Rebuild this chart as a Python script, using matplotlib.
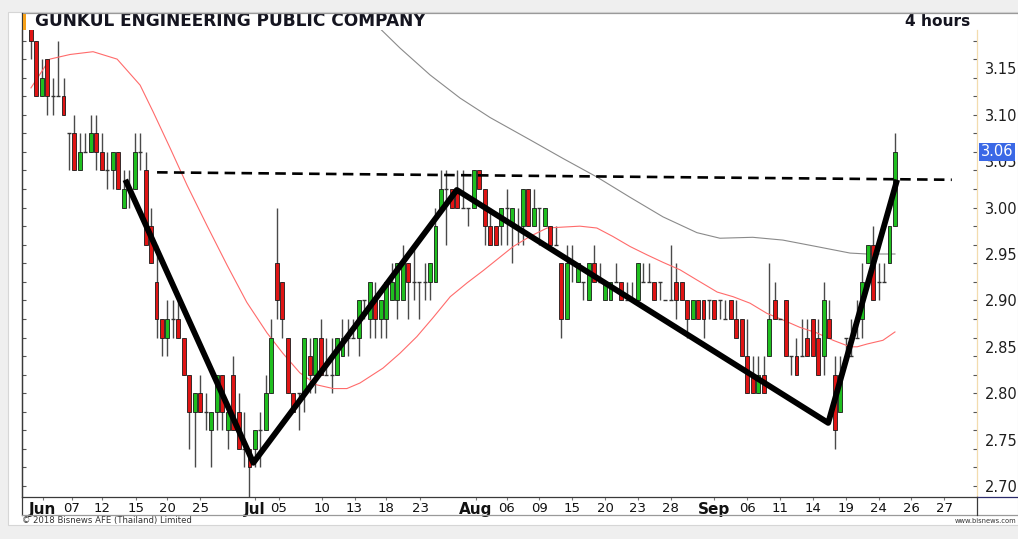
import numpy as np
import matplotlib
matplotlib.use("Agg")
import matplotlib.pyplot as plt
from matplotlib.lines import Line2D
from matplotlib.patches import Rectangle
from matplotlib.ticker import FixedLocator, FormatStrFormatter
from matplotlib.transforms import blended_transform_factory

W, H = 1018, 539

# 4-hour bars, GUNKUL, Jun - Sep 2018 (tick 0.02)
opens = [3.20, 3.18, 3.12, 3.16, 3.12, 3.12, 3.12, 3.08, 3.08, 3.04,
         3.06, 3.06, 3.08, 3.06, 3.04, 3.04, 3.06, 3.00, 3.02, 3.02,
         3.06, 3.04, 2.98, 2.92, 2.88, 2.86, 2.88, 2.88, 2.86, 2.82,
         2.78, 2.80, 2.78, 2.76, 2.78, 2.82, 2.76, 2.82, 2.78, 2.74,
         2.74, 2.74, 2.76, 2.76, 2.80, 2.94, 2.92, 2.86, 2.80, 2.80,
         2.80, 2.84, 2.82, 2.86, 2.82, 2.82, 2.82, 2.84, 2.86, 2.86,
         2.86, 2.90, 2.88, 2.90, 2.88, 2.88, 2.90, 2.90, 2.90, 2.94,
         2.92, 2.92, 2.92, 2.92, 2.92, 3.00, 3.02, 3.02, 3.02, 3.00,
         3.00, 3.00, 3.04, 3.02, 2.98, 2.98, 2.98, 3.00, 2.98, 2.98,
         2.98, 3.02, 2.98, 3.00, 2.98, 2.98, 2.96, 2.94, 2.88, 2.94,
         2.92, 2.92, 2.90, 2.94, 2.92, 2.90, 2.90, 2.92, 2.92, 2.90,
         2.90, 2.90, 2.92, 2.92, 2.92, 2.92, 2.90, 2.90, 2.92, 2.92,
         2.90, 2.88, 2.90, 2.90, 2.90, 2.90, 2.90, 2.88, 2.90, 2.88,
         2.88, 2.84, 2.82, 2.80, 2.82, 2.84, 2.90, 2.88, 2.90, 2.84,
         2.84, 2.84, 2.86, 2.88, 2.86, 2.84, 2.88, 2.82, 2.78, 2.86,
         2.84, 2.86, 2.88, 2.94, 2.96, 2.92, 2.92, 2.94, 2.98]
highs = [3.20, 3.18, 3.16, 3.16, 3.14, 3.18, 3.14, 3.08, 3.10, 3.08,
         3.08, 3.10, 3.10, 3.08, 3.06, 3.06, 3.06, 3.04, 3.04, 3.08,
         3.08, 3.06, 3.00, 2.96, 2.88, 2.90, 2.90, 2.90, 2.86, 2.82,
         2.80, 2.82, 2.80, 2.78, 2.82, 2.82, 2.78, 2.84, 2.80, 2.78,
         2.74, 2.76, 2.78, 2.82, 2.88, 3.00, 2.92, 2.86, 2.80, 2.80,
         2.86, 2.86, 2.86, 2.88, 2.86, 2.86, 2.86, 2.88, 2.88, 2.88,
         2.90, 2.90, 2.92, 2.92, 2.90, 2.92, 2.94, 2.94, 2.96, 2.94,
         2.96, 2.92, 2.94, 2.94, 3.00, 3.04, 3.04, 3.02, 3.04, 3.04,
         3.00, 3.04, 3.04, 3.02, 3.00, 2.98, 3.00, 3.02, 3.00, 3.00,
         3.02, 3.02, 3.02, 3.00, 3.00, 2.98, 2.98, 2.94, 2.96, 2.96,
         2.94, 2.92, 2.94, 2.96, 2.94, 2.92, 2.92, 2.94, 2.92, 2.92,
         2.92, 2.94, 2.94, 2.94, 2.92, 2.92, 2.90, 2.96, 2.94, 2.92,
         2.90, 2.90, 2.90, 2.90, 2.90, 2.90, 2.90, 2.90, 2.90, 2.90,
         2.88, 2.88, 2.84, 2.84, 2.84, 2.94, 2.92, 2.88, 2.90, 2.84,
         2.86, 2.88, 2.88, 2.88, 2.88, 2.92, 2.90, 2.84, 2.84, 2.86,
         2.88, 2.90, 2.94, 2.96, 2.98, 2.94, 2.94, 2.98, 3.08]
lows = [3.16, 3.12, 3.12, 3.10, 3.10, 3.12, 3.10, 3.04, 3.04, 3.04,
        3.06, 3.06, 3.04, 3.04, 3.02, 3.02, 3.02, 3.00, 3.00, 3.02,
        3.04, 2.96, 2.94, 2.86, 2.84, 2.84, 2.86, 2.86, 2.82, 2.74,
        2.72, 2.78, 2.76, 2.72, 2.76, 2.76, 2.74, 2.76, 2.74, 2.72,
        2.68, 2.72, 2.72, 2.76, 2.80, 2.88, 2.86, 2.80, 2.78, 2.76,
        2.78, 2.80, 2.80, 2.82, 2.82, 2.80, 2.82, 2.84, 2.84, 2.86,
        2.84, 2.88, 2.86, 2.86, 2.86, 2.86, 2.90, 2.88, 2.90, 2.88,
        2.90, 2.88, 2.90, 2.90, 2.92, 3.00, 2.96, 3.00, 3.00, 3.00,
        2.98, 3.00, 3.02, 2.96, 2.96, 2.96, 2.96, 2.96, 2.94, 2.96,
        2.96, 2.98, 2.98, 2.96, 2.98, 2.96, 2.96, 2.86, 2.88, 2.92,
        2.92, 2.90, 2.90, 2.92, 2.92, 2.90, 2.90, 2.92, 2.90, 2.90,
        2.90, 2.90, 2.92, 2.92, 2.90, 2.90, 2.90, 2.90, 2.88, 2.90,
        2.86, 2.88, 2.88, 2.86, 2.88, 2.88, 2.88, 2.88, 2.88, 2.86,
        2.84, 2.80, 2.80, 2.80, 2.80, 2.84, 2.88, 2.88, 2.84, 2.82,
        2.82, 2.84, 2.84, 2.84, 2.82, 2.82, 2.86, 2.74, 2.78, 2.84,
        2.84, 2.86, 2.86, 2.94, 2.90, 2.90, 2.92, 2.94, 2.98]
closes = [3.18, 3.12, 3.14, 3.12, 3.12, 3.12, 3.10, 3.08, 3.04, 3.06,
          3.06, 3.08, 3.06, 3.04, 3.04, 3.06, 3.02, 3.02, 3.02, 3.06,
          3.06, 2.96, 2.94, 2.88, 2.86, 2.88, 2.88, 2.86, 2.82, 2.78,
          2.80, 2.78, 2.78, 2.78, 2.82, 2.78, 2.78, 2.76, 2.74, 2.74,
          2.72, 2.76, 2.76, 2.80, 2.86, 2.90, 2.88, 2.80, 2.78, 2.80,
          2.86, 2.82, 2.86, 2.82, 2.82, 2.82, 2.86, 2.86, 2.86, 2.86,
          2.90, 2.90, 2.92, 2.88, 2.90, 2.92, 2.92, 2.94, 2.94, 2.92,
          2.92, 2.92, 2.92, 2.94, 2.98, 3.02, 3.02, 3.00, 3.00, 3.00,
          3.00, 3.04, 3.02, 2.98, 2.96, 2.96, 3.00, 3.00, 3.00, 2.98,
          3.02, 2.98, 3.00, 3.00, 3.00, 2.96, 2.96, 2.88, 2.94, 2.94,
          2.94, 2.92, 2.94, 2.92, 2.92, 2.92, 2.92, 2.92, 2.90, 2.90,
          2.90, 2.94, 2.92, 2.92, 2.90, 2.92, 2.90, 2.90, 2.90, 2.90,
          2.88, 2.90, 2.88, 2.88, 2.90, 2.88, 2.90, 2.88, 2.88, 2.86,
          2.84, 2.80, 2.80, 2.82, 2.80, 2.88, 2.88, 2.88, 2.84, 2.84,
          2.82, 2.84, 2.84, 2.84, 2.82, 2.90, 2.86, 2.76, 2.82, 2.86,
          2.84, 2.86, 2.92, 2.96, 2.90, 2.92, 2.92, 2.98, 3.06]

# moving averages (bar position, price)
ma_fast_x = [0.05, 3.5, 7.2, 11.4, 15.8, 20.0, 22.4, 25.5, 28.6, 32.2, 35.9, 39.5,
             43.2, 46.1, 49.2, 52.3, 55.3, 57.8, 60.2, 64.4, 67.5, 70.6, 73.5,
             76.7, 79.8, 82.7, 88.2, 91.3, 94.4, 97.3, 100.4, 103.5, 106.4,
             109.6, 112.7, 115.6, 118.7, 121.8, 125.5, 128.4, 131.5, 134.6,
             137.5, 140.6, 143.7, 146.7, 149.8, 151.1, 152.9, 155.8, 158.0]
ma_fast_y = [3.129, 3.160, 3.165, 3.168, 3.160, 3.132, 3.103, 3.064, 3.024, 2.981,
             2.938, 2.898, 2.865, 2.843, 2.822, 2.809, 2.805, 2.805, 2.811, 2.827,
             2.843, 2.861, 2.881, 2.904, 2.919, 2.932, 2.958, 2.969, 2.978, 2.979,
             2.980, 2.978, 2.969, 2.958, 2.949, 2.941, 2.933, 2.922, 2.909, 2.904,
             2.897, 2.886, 2.879, 2.871, 2.865, 2.857, 2.850, 2.850, 2.853, 2.857,
             2.866]
ma_slow_x = [63.5, 67.5, 73.0, 78.5, 84.0, 91.3, 97.3, 103.5, 109.6, 115.6,
             121.8, 126.0, 132.0, 137.5, 143.7, 149.8, 152.9, 158.0]
ma_slow_y = [3.195, 3.172, 3.143, 3.118, 3.097, 3.073, 3.053, 3.033, 3.011, 2.990,
             2.973, 2.967, 2.968, 2.965, 2.958, 2.951, 2.950, 2.950]

# hand drawn pattern lines
zig_x = [17.3, 40.7, 77.9, 145.8, 158.4]
zig_y = [3.030, 2.725, 3.019, 2.768, 3.030]
neck_x = [23.1, 168.4]
neck_y = [3.038, 3.030]

tick_pos = [2.2, 7.5, 13.0, 19.2, 25.0, 31.0, 41.0, 45.4, 53.2, 59.2, 65.0, 71.2,
            81.4, 87.0, 93.0, 99.0, 105.0, 111.0, 117.0, 125.0, 131.0, 137.0,
            143.0, 149.0, 155.0, 161.0, 167.0]
tick_lab = ["Jun", "07", "12", "15", "20", "25", "Jul", "05", "10", "13", "18", "23",
            "Aug", "06", "09", "15", "20", "23", "28", "Sep", "06", "11", "14", "19",
            "24", "26", "27"]
months = {"Jun", "Jul", "Aug", "Sep"}
price_ticks = [2.70, 2.75, 2.80, 2.85, 2.90, 2.95, 3.00, 3.05, 3.10, 3.15]


def fx(x):
    return x / W


def fy(y):
    return 1 - y / H


fig = plt.figure(figsize=(W / 100, H / 100), dpi=100, facecolor="#efefef")
panel = Rectangle((fx(8), fy(525)), fx(1018 - 8), (525 - 12) / H,
                  transform=fig.transFigure, fc="white", ec="#d6d6d6", lw=0.8, zorder=-10)
fig.patches.append(panel)

ax = fig.add_axes([fx(22), fy(497), fx(977 - 22), (497 - 30) / H])
ax.set_facecolor("white")
ax.set_zorder(2)

o = np.array(opens); h = np.array(highs); l = np.array(lows); c = np.array(closes)
x = np.arange(len(o))
up = c > o + 1e-9
dn = c < o - 1e-9
fl = ~(up | dn)
bw = 0.72

ax.vlines(x, l, h, color="#4a4a4a", lw=1.0, zorder=2)
ax.bar(x[up], (c - o)[up], bottom=o[up], width=bw, color="#1fbf1f",
       edgecolor="#1a1a1a", lw=0.6, zorder=3)
ax.bar(x[dn], (o - c)[dn], bottom=c[dn], width=bw, color="#e01414",
       edgecolor="#1a1a1a", lw=0.6, zorder=3)
ax.hlines(c[fl], x[fl] - bw / 2, x[fl] + bw / 2, color="#333333", lw=1.0, zorder=3)

ax.plot(ma_fast_x, ma_fast_y, color="#ff6b6b", lw=0.8, zorder=2.5)
ax.plot(ma_slow_x, ma_slow_y, color="#8a8a8a", lw=0.8, zorder=2.5)

ax.plot(neck_x, neck_y, color="black", lw=1.9, ls=(0, (4, 2.4)), zorder=4)
ax.plot(zig_x, zig_y, color="black", lw=4.2, solid_capstyle="butt", zorder=5)

ax.set_xlim(-1.59, 173.0)
ax.set_ylim(2.70 - 11 / 928, 2.70 + 456 / 928)

# axes frame
ax.spines["top"].set_visible(False)
ax.spines["left"].set_color("#3a3a3a")
ax.spines["bottom"].set_color("#3a3a3a")
ax.spines["right"].set_color("#f3dcae")
for s in ax.spines.values():
    s.set_linewidth(0.9)

ax.yaxis.set_major_locator(FixedLocator(price_ticks))
ax.yaxis.set_minor_locator(FixedLocator(np.arange(2.70, 3.20, 0.02)))
ax.yaxis.remove_overlapping_locs = False
ax.yaxis.set_major_formatter(FormatStrFormatter("%.2f"))
ax.tick_params(axis="y", which="major", left=False, right=True, labelleft=False,
               labelright=True, length=0, pad=5.5, labelsize=10.5, labelcolor="#1e1e1e")
ax.tick_params(axis="y", which="minor", left=True, right=True, direction="in",
               length=3, width=0.8, color="#555555")

ax.set_xticks(tick_pos)
ax.set_xticklabels(tick_lab)
ax.tick_params(axis="x", direction="out", length=2.5, width=0.8, color="#777777",
               pad=1.0, labelsize=9.5, labelcolor="#111111")
for t in ax.get_xticklabels():
    if t.get_text() in months:
        t.set_fontweight("bold")
        t.set_fontsize(11)

# last price tag
bt = blended_transform_factory(fig.transFigure, ax.transData)
ax.text(fx(980.5), c[-1], "%.2f" % c[-1], transform=bt, ha="left", va="center",
        fontsize=10.5, color="white", zorder=20, clip_on=False,
        bbox=dict(boxstyle="square,pad=0.12", fc="#3a68e6", ec="none"))


# frame lines outside the axes
def fline(xs, ys, color, lw=0.9):
    fig.add_artist(Line2D([fx(v) for v in xs], [fy(v) for v in ys],
                          transform=fig.transFigure, color=color, lw=lw, zorder=5))


fline([22, 1018], [13, 13], "#9a9a9a")
fline([22, 22], [13, 515], "#3a3a3a")
fline([22, 1018], [515, 515], "#9a9a9a")
fline([977, 1018], [497, 497], "#2a2a6a")
fline([977, 977], [497, 515], "#3a3a3a")
fig.add_artist(Rectangle((fx(22.5), fy(30)), fx(3.5), 16 / H,
                         transform=fig.transFigure, fc="#f5a01a", ec="none", zorder=6))

fig.canvas.draw()
r = fig.canvas.get_renderer()


def fit(t, width_px):
    w = t.get_window_extent(r).width
    t.set_fontsize(t.get_fontsize() * width_px / w)


t1 = fig.text(fx(35), fy(21.5), "GUNKUL ENGINEERING PUBLIC COMPANY", ha="left",
              va="center", fontsize=11, fontweight="bold", color="#151520")
fit(t1, 390)
t2 = fig.text(fx(970), fy(21.5), "4 hours", ha="right", va="center", fontsize=11,
              fontweight="bold", color="#151520")
fit(t2, 65)
t3 = fig.text(fx(22), fy(521), "\u00a9 2018 Bisnews AFE (Thailand) Limited", ha="left",
              va="center", fontsize=5.5, color="#333333")
fit(t3, 170)
t4 = fig.text(fx(1016), fy(521), "www.bisnews.com", ha="right", va="center",
              fontsize=5.5, color="#333333")
fit(t4, 62)

fig.savefig("out.png", dpi=100, facecolor=fig.get_facecolor())
